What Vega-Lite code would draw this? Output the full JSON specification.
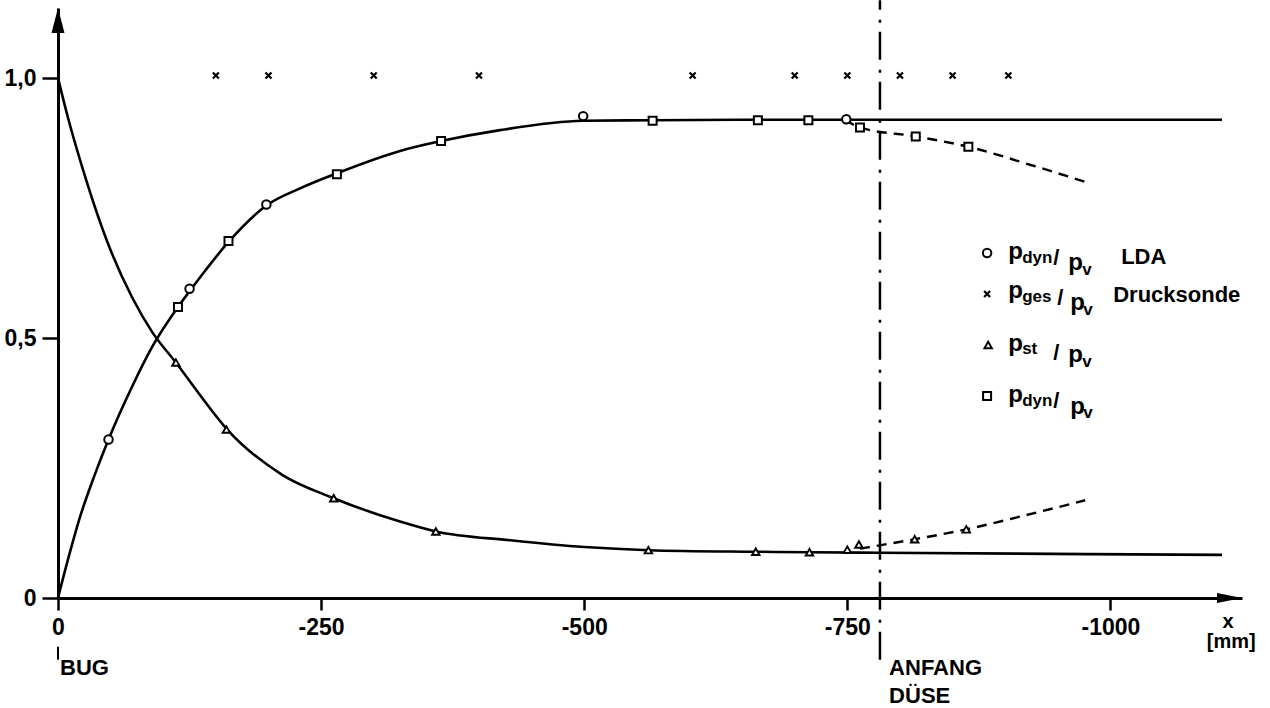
{
"$schema":"https://vega.github.io/schema/vega-lite/v6.json",
"width":1184,"height":590,
"autosize":{"type":"none"},
"padding":{"left":58,"top":8,"right":28,"bottom":110},
"background":"white",
"config":{"view":{"stroke":null},"axis":{"grid":false}},
"datasets":{
"curves":[
{"s":"dyn","x":0,"y":0},{"s":"dyn","x":-10,"y":0.078},{"s":"dyn","x":-20,"y":0.15},{"s":"dyn","x":-34,"y":0.232},{"s":"dyn","x":-48,"y":0.305},{"s":"dyn","x":-70,"y":0.405},{"s":"dyn","x":-90,"y":0.485},{"s":"dyn","x":-114,"y":0.56},{"s":"dyn","x":-125,"y":0.59},{"s":"dyn","x":-140,"y":0.63},{"s":"dyn","x":-162,"y":0.685},{"s":"dyn","x":-198,"y":0.755},{"s":"dyn","x":-230,"y":0.788},{"s":"dyn","x":-265,"y":0.817},{"s":"dyn","x":-325,"y":0.86},{"s":"dyn","x":-364,"y":0.879},{"s":"dyn","x":-420,"y":0.9},{"s":"dyn","x":-499,"y":0.918},{"s":"dyn","x":-565,"y":0.919},{"s":"dyn","x":-665,"y":0.92},{"s":"dyn","x":-760,"y":0.92},{"s":"dyn","x":-1106,"y":0.92},
{"s":"st","x":0,"y":1.0},{"s":"st","x":-10,"y":0.92},{"s":"st","x":-23,"y":0.829},{"s":"st","x":-50,"y":0.669},{"s":"st","x":-70,"y":0.58},{"s":"st","x":-90,"y":0.51},{"s":"st","x":-112,"y":0.453},{"s":"st","x":-134,"y":0.393},{"s":"st","x":-160,"y":0.326},{"s":"st","x":-213,"y":0.237},{"s":"st","x":-262,"y":0.192},{"s":"st","x":-325,"y":0.147},{"s":"st","x":-359,"y":0.128},{"s":"st","x":-430,"y":0.111},{"s":"st","x":-500,"y":0.098},{"s":"st","x":-561,"y":0.092},{"s":"st","x":-663,"y":0.089},{"s":"st","x":-714,"y":0.088},{"s":"st","x":-780,"y":0.087},{"s":"st","x":-1106,"y":0.083},
{"s":"dynd","x":-748,"y":0.92},{"s":"dynd","x":-762,"y":0.905},{"s":"dynd","x":-815,"y":0.888},{"s":"dynd","x":-865,"y":0.868},{"s":"dynd","x":-926,"y":0.832},{"s":"dynd","x":-977,"y":0.8},
{"s":"std","x":-762,"y":0.095},{"s":"std","x":-814,"y":0.113},{"s":"std","x":-863,"y":0.132},{"s":"std","x":-917,"y":0.158},{"s":"std","x":-976,"y":0.188}
],
"pts":[
{"k":"o","x":-48,"y":0.305},{"k":"o","x":-125,"y":0.595},{"k":"o","x":-198,"y":0.757},{"k":"o","x":-499,"y":0.927},{"k":"o","x":-749,"y":0.921},{"k":"o","x":-882.8,"y":0.6637},
{"k":"s","x":-114,"y":0.56},{"k":"s","x":-162,"y":0.687},{"k":"s","x":-265,"y":0.815},{"k":"s","x":-364,"y":0.879},{"k":"s","x":-565,"y":0.918},{"k":"s","x":-665,"y":0.919},{"k":"s","x":-713,"y":0.919},{"k":"s","x":-762,"y":0.905},{"k":"s","x":-815,"y":0.888},{"k":"s","x":-865,"y":0.868},{"k":"s","x":-882.8,"y":0.3886},
{"k":"t","x":-112,"y":0.453},{"k":"t","x":-160,"y":0.324},{"k":"t","x":-262,"y":0.192},{"k":"t","x":-359,"y":0.128},{"k":"t","x":-561,"y":0.092},{"k":"t","x":-663,"y":0.089},{"k":"t","x":-714,"y":0.088},{"k":"t","x":-750,"y":0.093},{"k":"t","x":-761,"y":0.103},{"k":"t","x":-814,"y":0.113},{"k":"t","x":-863,"y":0.132},{"k":"t","x":-883.8,"y":0.4867},
{"k":"x","x":-150,"y":1.005},{"k":"x","x":-200,"y":1.005},{"k":"x","x":-300,"y":1.005},{"k":"x","x":-400,"y":1.005},{"k":"x","x":-603,"y":1.005},{"k":"x","x":-700,"y":1.005},{"k":"x","x":-750,"y":1.005},{"k":"x","x":-800,"y":1.005},{"k":"x","x":-850,"y":1.005},{"k":"x","x":-903,"y":1.005},{"k":"x","x":-882.8,"y":0.5848}
],
"mains":[
{"t":"p","x":-902.8,"y":0.6531},{"t":"p","x":-959.8,"y":0.6301},
{"t":"p","x":-902.8,"y":0.5762},{"t":"p","x":-961.7,"y":0.5531},
{"t":"p","x":-902.8,"y":0.4761},{"t":"p","x":-959.8,"y":0.4531},
{"t":"p","x":-902.8,"y":0.378},{"t":"p","x":-961.7,"y":0.3549}
],
"subs":[
{"t":"dyn","x":-916.1,"y":0.6454},{"t":"v","x":-973.1,"y":0.6214},
{"t":"ges","x":-916.1,"y":0.5685},{"t":"v","x":-974.1,"y":0.5444},
{"t":"st","x":-916.1,"y":0.4685},{"t":"v","x":-973.1,"y":0.4444},
{"t":"dyn","x":-916.1,"y":0.3703},{"t":"v","x":-974.1,"y":0.3463}
],
"slashes":[
{"t":"/","x":-945.6,"y":0.6406},{"t":"/","x":-949.4,"y":0.5637},{"t":"/","x":-945.6,"y":0.4579},{"t":"/","x":-945.6,"y":0.3655}
],
"words":[
{"t":"LDA","x":-1010.2,"y":0.6426},{"t":"Drucksonde","x":-1002.6,"y":0.5694},
{"t":"BUG","x":-1.9,"y":-0.1481},{"t":"ANFANG","x":-789.7,"y":-0.1481},{"t":"DÜSE","x":-789.7,"y":-0.202}
],
"units":[{"t":"x","x":-1111.8,"y":-0.0577},{"t":"[mm]","x":-1114.7,"y":-0.0962}],
"vline":[{"x":-781,"y":-0.119,"y2":1.15}],
"bugtick":[{"x":0,"y":-0.094,"y2":-0.119}],
"arrows":[{"d":"up","x":0,"y":1.135},{"d":"right","x":-1125,"y":0}]
},
"encoding":{
"x":{"field":"x","type":"quantitative","scale":{"domain":[-1125,0],"reverse":true,"nice":false,"zero":false},
 "axis":{"values":[0,-250,-500,-750,-1000],"title":null,"grid":false,"domainWidth":3,"domainColor":"black","tickColor":"black","tickWidth":2.5,"tickSize":12,"labelFont":"Liberation Sans","labelFontSize":23,"labelFontWeight":"bold","labelColor":"black","labelPadding":6,"labelFlush":false,"labelOverlap":false,"labelExpr":"datum.value == 0 ? '0' : '-' + abs(datum.value)"}},
"y":{"field":"y","type":"quantitative","scale":{"domain":[0,1.135],"nice":false,"zero":false},
 "axis":{"values":[0,0.5,1],"title":null,"grid":false,"domainWidth":3,"domainColor":"black","tickColor":"black","tickWidth":2.5,"tickSize":16,"labelFont":"Liberation Sans","labelFontSize":23,"labelFontWeight":"bold","labelColor":"black","labelPadding":6,"labelFlush":false,"labelOverlap":false,"labelExpr":"datum.value == 0 ? '0' : (datum.value == 1 ? '1,0' : '0,5')"}}
},
"layer":[
{"data":{"name":"curves"},"transform":[{"filter":"datum.s=='dyn'||datum.s=='st'"}],"mark":{"type":"line","color":"black","strokeWidth":2.6,"interpolate":"monotone"},"encoding":{"detail":{"field":"s"},"order":{"field":"x","sort":"descending"}}},
{"data":{"name":"curves"},"transform":[{"filter":"datum.s=='dynd'||datum.s=='std'"}],"mark":{"type":"line","color":"black","strokeWidth":2.4,"strokeDash":[10,7],"interpolate":"monotone"},"encoding":{"detail":{"field":"s"},"order":{"field":"x","sort":"descending"}}},
{"data":{"name":"vline"},"mark":{"type":"rule","color":"black","strokeWidth":2.5,"strokeDash":[28,9,3,10]},"encoding":{"y2":{"field":"y2"}}},
{"data":{"name":"bugtick"},"mark":{"type":"rule","color":"black","strokeWidth":2},"encoding":{"y2":{"field":"y2"}}},
{"data":{"name":"pts"},"transform":[{"filter":"datum.k=='o'"}],"mark":{"type":"point","shape":"circle","size":72,"filled":true,"fill":"white","stroke":"black","strokeWidth":2,"opacity":1}},
{"data":{"name":"pts"},"transform":[{"filter":"datum.k=='s'"}],"mark":{"type":"point","shape":"square","size":64,"filled":true,"fill":"white","stroke":"black","strokeWidth":2,"opacity":1}},
{"data":{"name":"pts"},"transform":[{"filter":"datum.k=='t'"}],"mark":{"type":"point","shape":"triangle-up","size":56,"filled":true,"fill":"white","stroke":"black","strokeWidth":1.9,"opacity":1}},
{"data":{"name":"pts"},"transform":[{"filter":"datum.k=='x'"}],"mark":{"type":"point","shape":"M-1,-1L1,1M-1,1L1,-1","size":36,"filled":false,"stroke":"black","strokeWidth":2.2,"opacity":1}},
{"data":{"name":"arrows"},"transform":[{"filter":"datum.d=='up'"}],"mark":{"type":"point","shape":"M0,0L0.26,1L-0.26,1Z","size":2500,"filled":true,"fill":"black","strokeWidth":0,"opacity":1}},
{"data":{"name":"arrows"},"transform":[{"filter":"datum.d=='right'"}],"mark":{"type":"point","shape":"M0,0L-1,-0.2L-1,0.2Z","size":2500,"filled":true,"fill":"black","strokeWidth":0,"opacity":1}},
{"data":{"name":"mains"},"mark":{"type":"text","align":"left","baseline":"alphabetic","font":"Liberation Sans","fontWeight":"bold","fontSize":24,"color":"black"},"encoding":{"text":{"field":"t"}}},
{"data":{"name":"subs"},"mark":{"type":"text","align":"left","baseline":"alphabetic","font":"Liberation Sans","fontWeight":"bold","fontSize":17,"color":"black"},"encoding":{"text":{"field":"t"}}},
{"data":{"name":"slashes"},"mark":{"type":"text","align":"left","baseline":"alphabetic","font":"Liberation Sans","fontWeight":"bold","fontSize":22,"color":"black"},"encoding":{"text":{"field":"t"}}},
{"data":{"name":"words"},"mark":{"type":"text","align":"left","baseline":"alphabetic","font":"Liberation Sans","fontWeight":"bold","fontSize":22,"color":"black"},"encoding":{"text":{"field":"t"}}},
{"data":{"name":"units"},"mark":{"type":"text","align":"center","baseline":"alphabetic","font":"Liberation Sans","fontWeight":"bold","fontSize":20,"color":"black"},"encoding":{"text":{"field":"t"}}}
]
}
